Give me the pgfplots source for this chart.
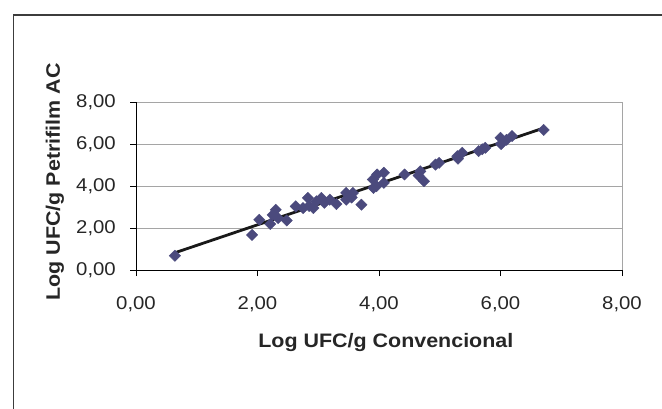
\documentclass[border=0pt]{standalone}
\usepackage{pgfplots}
\pgfplotsset{compat=1.18}
\usepackage{fontspec}
\setmainfont{Liberation Sans}[FakeStretch=1.1]
\definecolor{mk}{RGB}{75,74,125}
\definecolor{grd}{RGB}{165,165,165}
\begin{document}
\begin{tikzpicture}[x=1pt,y=1pt]
\useasboundingbox (0,0) rectangle (662,408);
\draw[line width=1.2pt, draw={rgb,255:red,60;green,60;blue,60}] (13.5,-20) -- (13.5,393) -- (700,393);
\begin{axis}[
  at={(136pt,138pt)}, anchor=south west,
  scale only axis, width=486pt, height=168pt,
  xmin=0, xmax=8, ymin=0, ymax=8,
  axis x line*=bottom, axis y line*=left,
  axis line style={black, line width=0.9pt, -},
  xtick={0,2,4,6,8}, ytick={0,2,4,6,8},
  xticklabels={0{,}00,2{,}00,4{,}00,6{,}00,8{,}00},
  yticklabels={0{,}00,2{,}00,4{,}00,6{,}00,8{,}00},
  tick align=outside, major tick length=6pt,
  tick style={black, line width=0.9pt},
  ymajorgrids, grid style={grd, line width=1pt},
  ticklabel style={font=\fontsize{18.5}{21}\selectfont, inner sep=0pt, text=black!85},
  xticklabel style={anchor=north, yshift=-20pt},
  yticklabel style={anchor=east, xshift=-14pt},
  xlabel={\bfseries Log UFC/g Convencional},
  ylabel={\bfseries Log UFC/g Petrifilm AC},
  label style={font=\fontsize{19.5}{22}\selectfont, text=black!85},
  xlabel style={at={(axis description cs:0.514,-0.43)}, anchor=center},
  ylabel style={at={(axis description cs:-0.167,0.524)}, anchor=center},
  clip=false,
]
\draw[grd, line width=1pt] (axis cs:8,0) -- (axis cs:8,8);
\addplot[only marks, mark=square*, mark size=4pt, mark options={rotate=45, fill=mk, draw=mk}] table {
x y
0.64 0.68
1.91 1.67
2.03 2.39
2.21 2.19
2.25 2.62
2.30 2.87
2.34 2.47
2.48 2.36
2.63 3.03
2.75 2.95
2.83 3.43
2.85 3.05
2.92 2.95
2.97 3.27
3.05 3.43
3.10 3.20
3.19 3.35
3.30 3.14
3.46 3.67
3.46 3.35
3.55 3.45
3.57 3.67
3.71 3.11
3.90 4.31
3.91 3.91
3.96 3.99
3.97 4.55
4.08 4.63
4.08 4.15
4.42 4.55
4.65 4.50
4.68 4.70
4.74 4.23
4.93 5.02
4.99 5.10
5.29 5.42
5.30 5.30
5.37 5.58
5.64 5.66
5.70 5.75
5.75 5.82
6.00 6.30
6.01 6.00
6.10 6.20
6.19 6.38
6.71 6.67
};
\addplot[black!90, line width=2.8pt, no marks] coordinates {(0.65,0.83) (6.72,6.77)};
\end{axis}
\end{tikzpicture}
\end{document}
